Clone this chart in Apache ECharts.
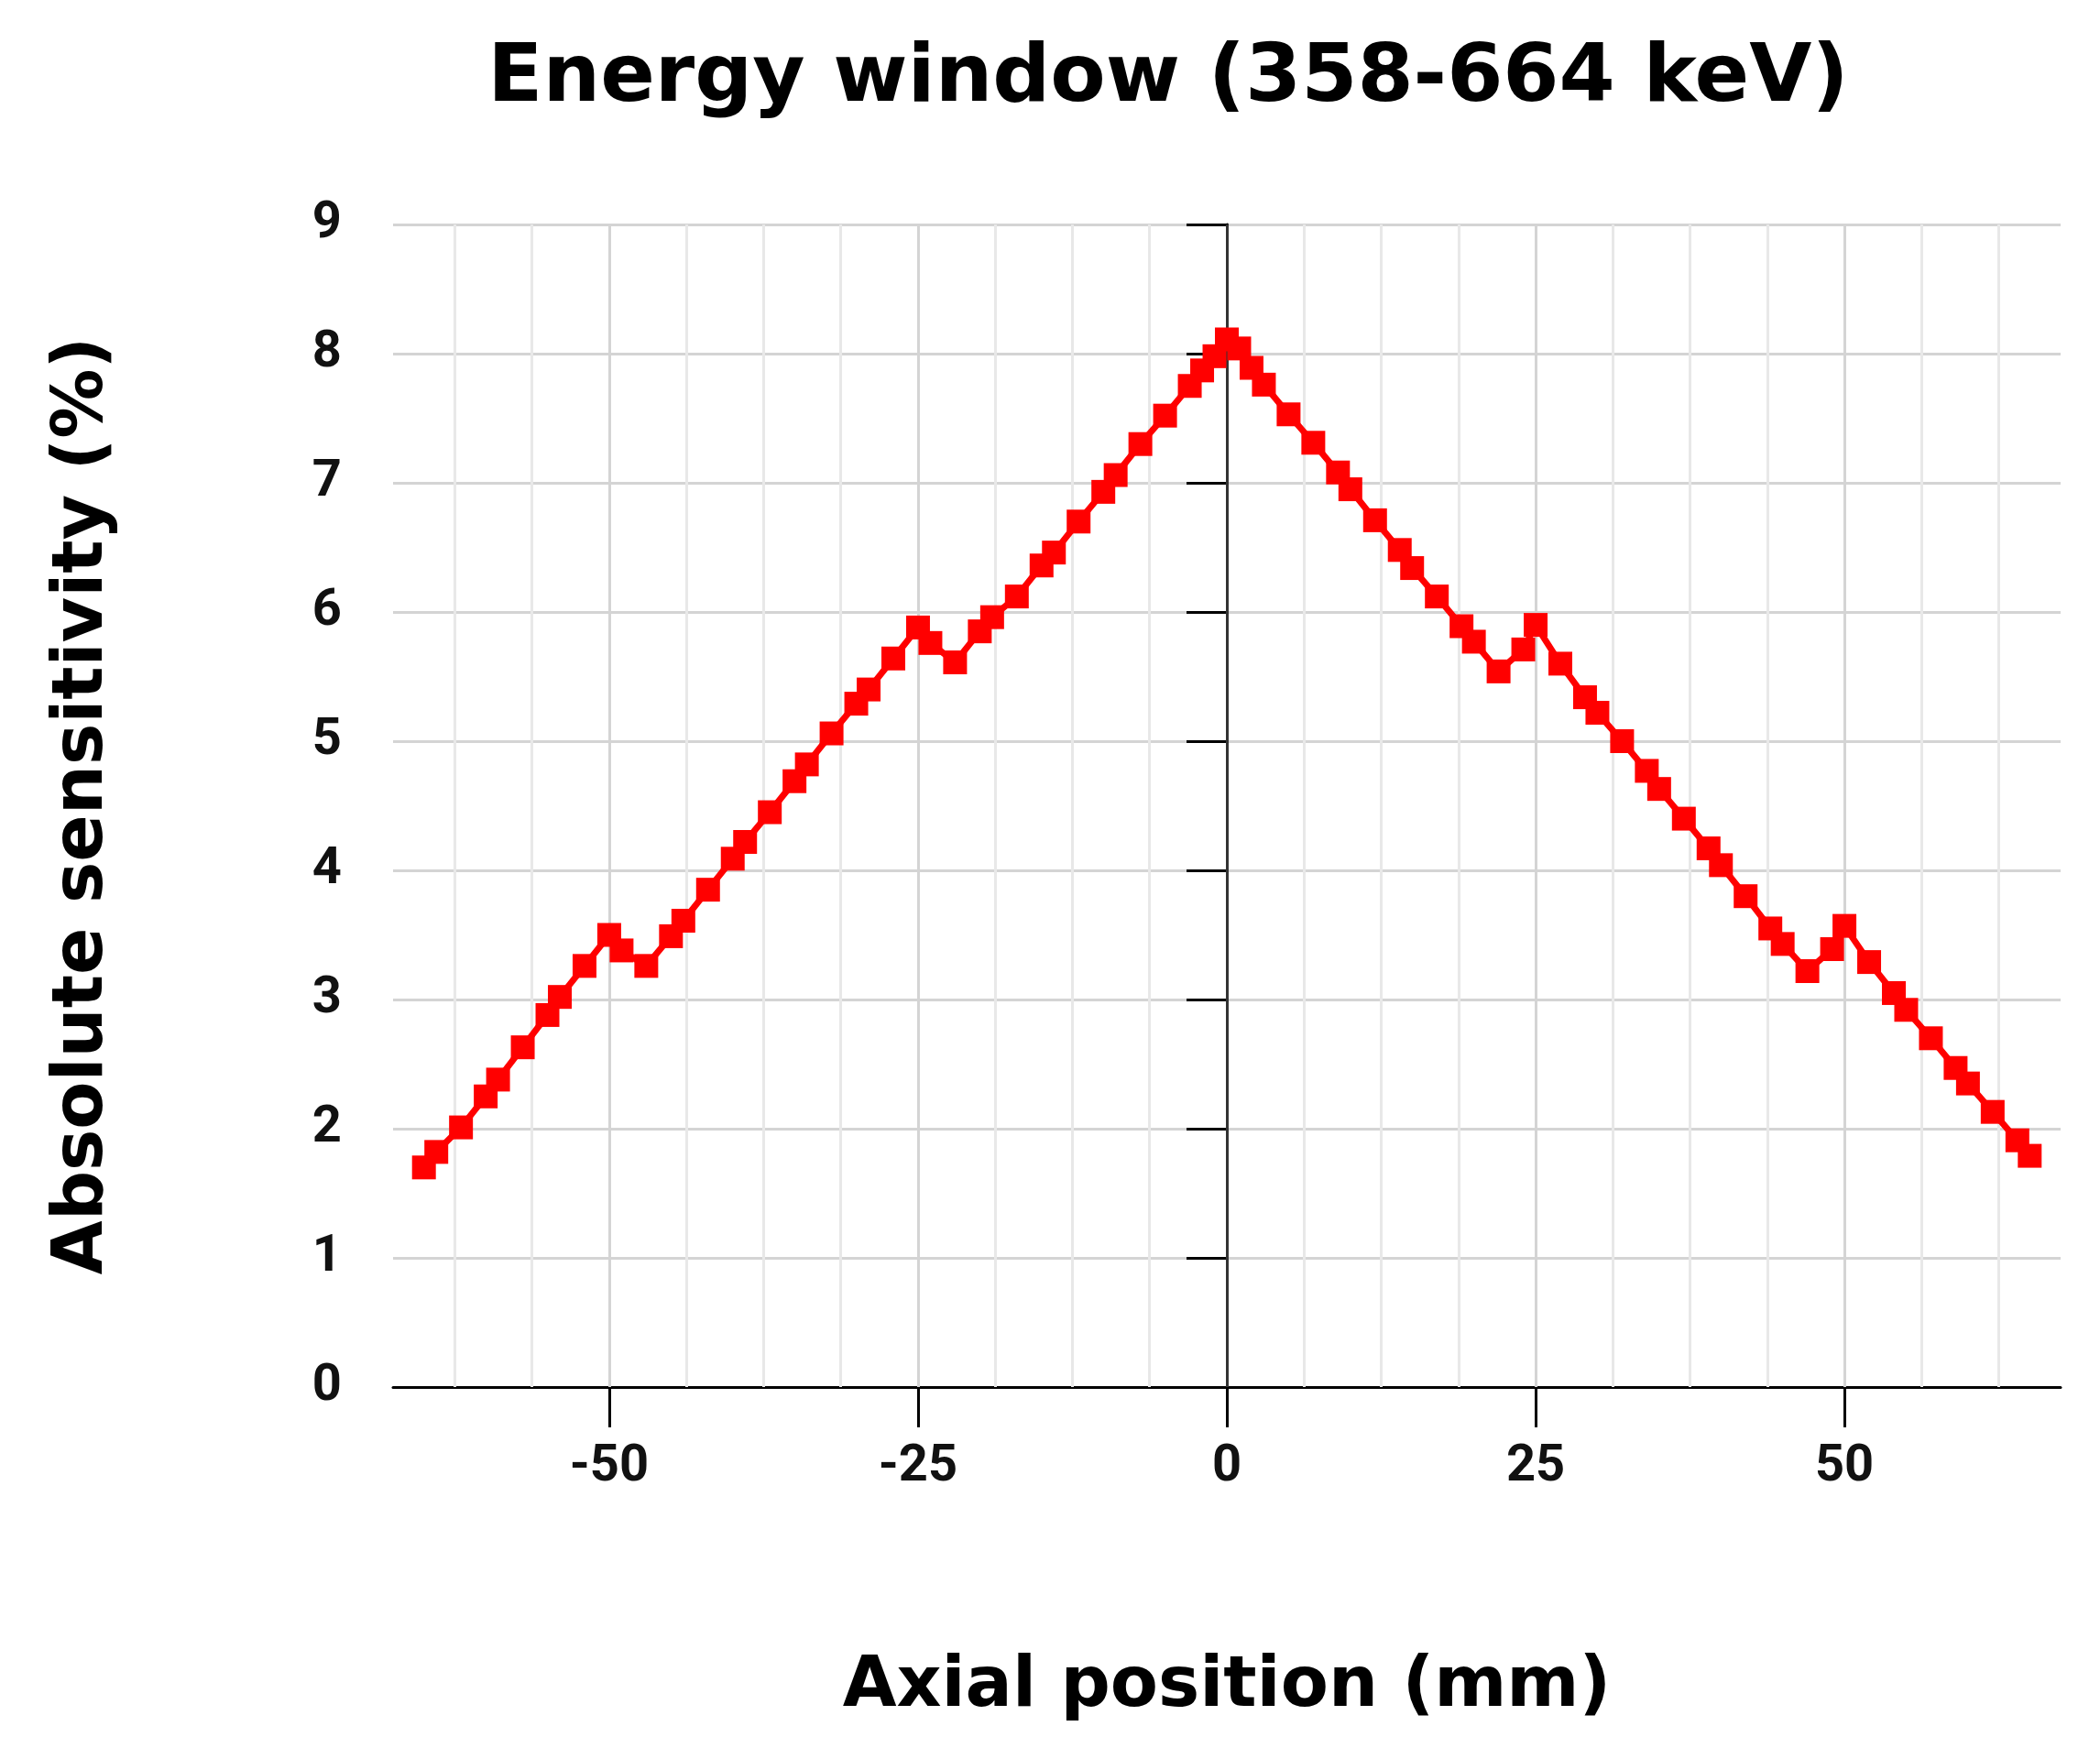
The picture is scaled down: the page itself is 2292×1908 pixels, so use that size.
<!DOCTYPE html>
<html><head><meta charset="utf-8">
<script src="https://cdn.jsdelivr.net/npm/echarts@6/dist/echarts.min.js"></script>
<style>html,body{margin:0;padding:0;background:#fff}#c{width:2292px;height:1908px}</style>
</head><body><div id="c"></div>
<script>
const positions = [-65,-64,-62,-60,-59,-57,-55,-54,-52,-50,-49,-47,-45,-44,-42,-40,-39,-37,-35,-34,-32,-30,-29,-27,-25,-24,-22,-20,-19,-17,-15,-14,-12,-10,-9,-7,-5,-3,-2,-1,0,1,2,3,5,7,9,10,12,14,15,17,19,20,22,24,25,27,29,30,32,34,35,37,39,40,42,44,45,47,49,50,52,54,55,57,59,60,62,64,65];
const sensitivity = [1.70,1.82,2.01,2.25,2.38,2.63,2.88,3.02,3.26,3.50,3.38,3.26,3.49,3.61,3.85,4.09,4.22,4.45,4.69,4.82,5.06,5.29,5.40,5.64,5.88,5.76,5.61,5.85,5.96,6.12,6.36,6.46,6.70,6.93,7.06,7.30,7.52,7.75,7.87,7.98,8.11,8.04,7.89,7.76,7.53,7.31,7.08,6.95,6.71,6.48,6.34,6.12,5.89,5.77,5.54,5.71,5.90,5.60,5.34,5.22,5.00,4.77,4.63,4.40,4.17,4.04,3.80,3.55,3.43,3.22,3.39,3.57,3.29,3.05,2.92,2.70,2.47,2.35,2.13,1.91,1.79];
const xTicks = [-50,-25,0,25,50];
const minorGrid = [-62.5,-56.25,-43.75,-37.5,-31.25,-18.75,-12.5,-6.25,6.25,12.5,18.75,31.25,37.5,43.75,56.25,62.5];
const majorGrid = [-50,-25,25,50];

const chart = echarts.init(document.getElementById('c'));
const tickFont = {fontFamily:'Roboto', fontWeight:'bold', fontSize:56, color:'#111'};
chart.setOption({
  animation:false,
  title:{text:'Energy window (358-664 keV)', left:1270, top:38, textAlign:'center',
    textStyle:{fontFamily:'DejaVu Sans', fontWeight:'bold', fontSize:88, color:'#000'}},
  grid:{left:429, right:43, top:245, bottom:394},
  xAxis:{type:'value', min:-67.5, max:67.5,
    name:'Axial position (mm)', nameLocation:'middle', nameGap:290,
    nameTextStyle:{fontFamily:'DejaVu Sans', fontWeight:'bold', fontSize:76, color:'#000'},
    axisLine:{onZero:false, lineStyle:{color:'#000', width:3}},
    axisTick:{customValues:xTicks, length:44, lineStyle:{color:'#000', width:3}},
    axisLabel:{customValues:xTicks, margin:60, ...tickFont},
    splitLine:{show:false}},
  yAxis:{type:'value', min:0, max:9, interval:1,
    name:'Absolute sensitivity (%)', nameLocation:'middle', nameGap:300,
    nameTextStyle:{fontFamily:'DejaVu Sans', fontWeight:'bold', fontSize:76, color:'#000'},
    axisLine:{show:true, lineStyle:{color:'#000', width:3}},
    axisTick:{show:true, length:44, lineStyle:{color:'#000', width:3}},
    axisLabel:{margin:56, ...tickFont},
    splitLine:{lineStyle:{color:'#d4d4d4', width:3}}},
  series:[
    {type:'line', data:[], silent:true,
     markLine:{silent:true, symbol:'none', label:{show:false},
       data:[
         ...minorGrid.map(v=>({xAxis:v, lineStyle:{color:'#e8e8e8', width:3, type:'solid'}})),
         ...majorGrid.map(v=>({xAxis:v, lineStyle:{color:'#d4d4d4', width:3, type:'solid'}})),
         {xAxis:0, lineStyle:{color:'#333', width:3, type:'solid'}}
       ]}},
    {type:'line', data:positions.map((p,i)=>[p,sensitivity[i]]),
     symbol:'rect', symbolSize:26, showAllSymbol:true,
     lineStyle:{color:'#ff0000', width:7}, itemStyle:{color:'#ff0000'}, z:5}
  ]
});
</script></body></html>
